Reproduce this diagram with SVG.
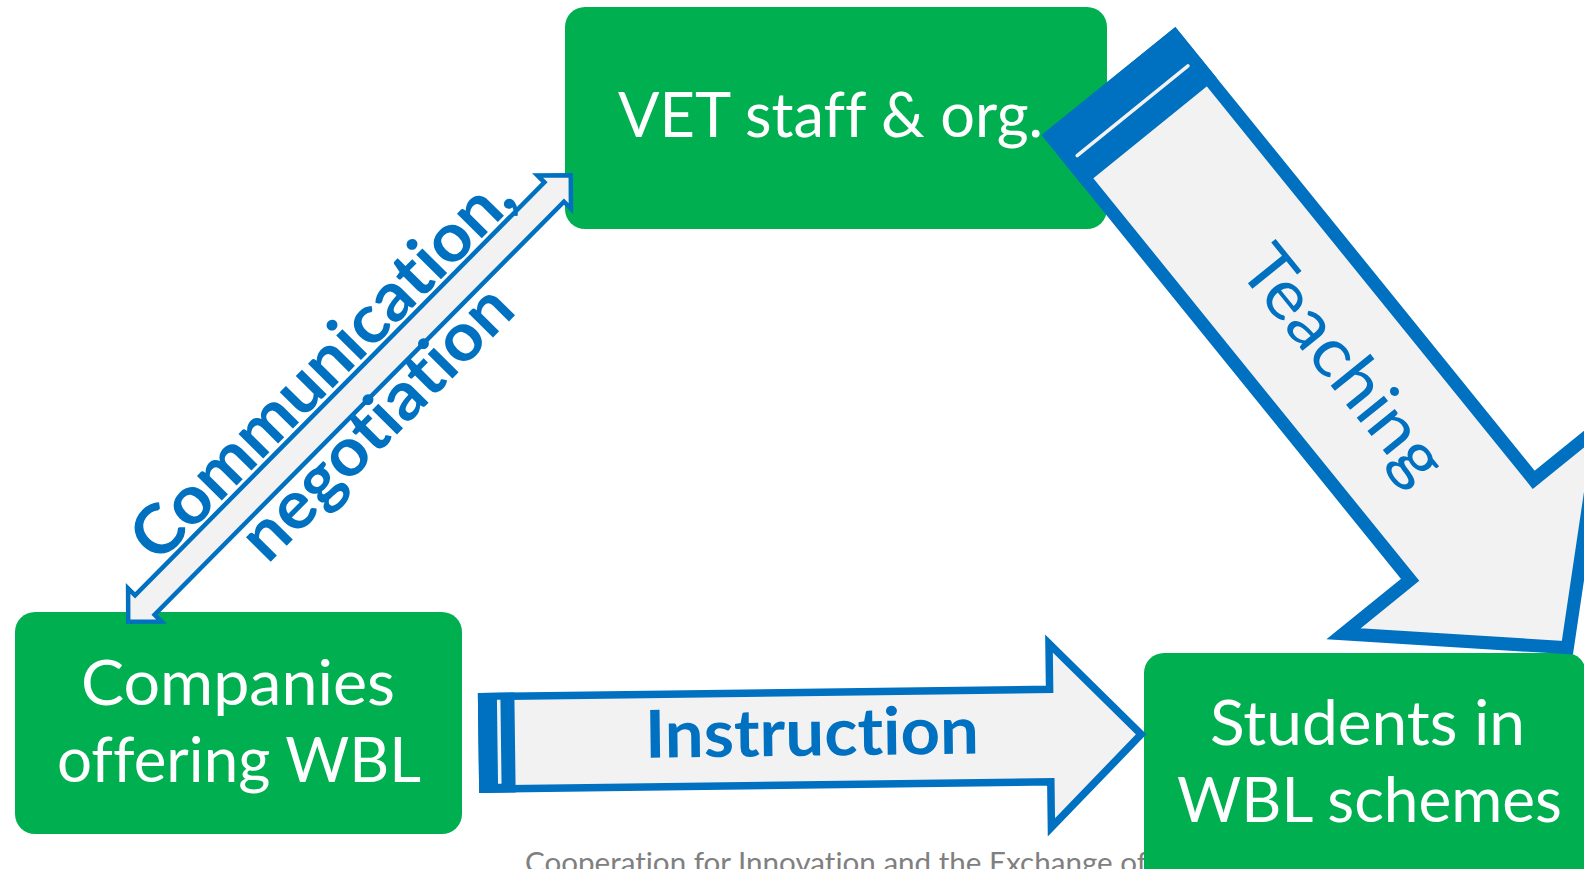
<svg xmlns="http://www.w3.org/2000/svg" width="1584" height="869" viewBox="0 0 1584 869">
<defs>
<style>
text{font-variant-ligatures:none;font-feature-settings:"liga" 0,"dlig" 0}
.box{fill:#00b050}
.nt{font-family:Lato,"Liberation Sans",sans-serif;font-size:61px;fill:#ffffff;text-anchor:middle}
.arr{fill:#f2f2f2;stroke:#0070c0;stroke-linejoin:miter;stroke-miterlimit:10}
.stripe{fill:#0070c0}
.gap{fill:#f2f2f2}
.lbl{font-family:Lato,"Liberation Sans",sans-serif;fill:#0070c0;text-anchor:middle}
.b{font-weight:bold}
.foot{font-family:Lato,"Liberation Sans",sans-serif;font-size:29px;fill:#808080}
</style>
</defs>
<rect width="1584" height="869" fill="#ffffff"/>
<text class="foot" x="525" y="873" textLength="622" lengthAdjust="spacingAndGlyphs">Cooperation for Innovation and the Exchange of</text>

<g id="node-vet">
<rect class="box" x="565" y="7" width="542" height="222" rx="20"/>
<text class="nt" x="830.5" y="137" textLength="425" lengthAdjust="spacingAndGlyphs">VET staff &amp; org.</text>
</g>
<g id="node-companies">
<rect class="box" x="15" y="612" width="447" height="222" rx="20"/>
<text class="nt" x="238" y="705" textLength="314" lengthAdjust="spacingAndGlyphs">Companies</text>
<text class="nt" x="239" y="782" textLength="364" lengthAdjust="spacingAndGlyphs">offering WBL</text>
</g>
<g id="node-students">
<rect class="box" x="1144" y="653" width="442" height="240" rx="20"/>
<text class="nt" x="1367.5" y="745" textLength="315" lengthAdjust="spacingAndGlyphs">Students in</text>
<text class="nt" x="1369.5" y="822" textLength="385" lengthAdjust="spacingAndGlyphs">WBL schemes</text>
</g>

<g id="connectors">
<g id="edge-teaching" transform="translate(1108.5 81) rotate(51)">
<polygon class="arr" stroke-width="13" points="6.5,-79.5 577.5,-79.5 577.5,-165.3 729.2,0 577.5,165.3 577.5,79.5 6.5,79.5"/>
<rect class="stripe" x="0" y="-86" width="66" height="172"/>
<rect class="gap" x="36.5" y="-73" width="3.5" height="146" rx="1.7"/>
<text class="lbl" x="368" y="19" font-size="69" textLength="282" lengthAdjust="spacingAndGlyphs">Teaching</text>
</g>
<g id="edge-instruction" transform="translate(478.5 743) rotate(-0.75)">
<polygon class="arr" stroke-width="7.5" points="3.75,-46.25 571.75,-46.25 571.75,-91.9 662.7,0 571.75,91.9 571.75,46.25 3.75,46.25"/>
<rect class="stripe" x="0" y="-50" width="36.5" height="100"/>
<rect class="gap" x="19" y="-43" width="3.5" height="84"/>
<text class="lbl b" x="333.5" y="17" font-size="66" textLength="334" lengthAdjust="spacingAndGlyphs">Instruction</text>
</g>
<g id="edge-communication" transform="translate(349.5 398.5) rotate(-45.25)">
<polygon class="arr" stroke-width="4.5" points="-314.3,0 -290.75,-23.55 -290.75,-13.75 290.75,-13.75 290.75,-23.55 314.3,0 290.75,23.55 290.75,13.75 -290.75,13.75 -290.75,23.55"/>
<text class="lbl b" x="3" y="-19" font-size="68" textLength="512" lengthAdjust="spacingAndGlyphs">Communication,</text>
<text class="lbl b" x="2" y="59" font-size="68" textLength="355" lengthAdjust="spacingAndGlyphs">negotiation</text>
</g>
</g>
</svg>
